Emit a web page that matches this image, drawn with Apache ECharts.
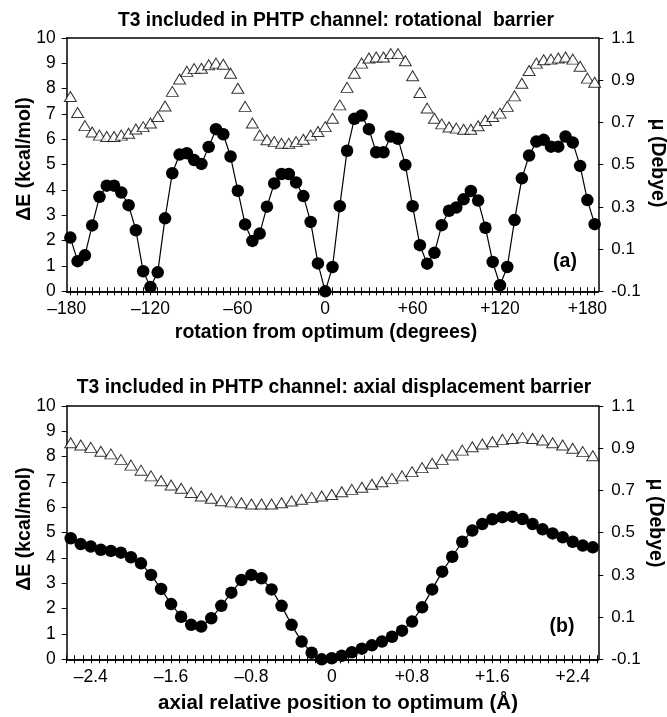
<!DOCTYPE html>
<html>
<head>
<meta charset="utf-8">
<script src="https://cdn.jsdelivr.net/npm/echarts@6/dist/echarts.min.js"></script>
<style>
  html, body { margin: 0; padding: 0; background: #fff; }
  #chart { width: 667px; height: 717px; }
</style>
</head>
<body>
<div id="chart"></div>
<script>
// ---------- DATA ----------
// (a) rotational barrier
const TOP_ANGLE = [-175,-170,-165,-160,-155,-150,-145,-140,-135,-130,-125,-120,-115,-110,-105,-100,-95,-90,-85,-80,-75,-70,-65,-60,-55,-50,-45,-40,-35,-30,-25,-20,-15,-10,-5,0,5,10,15,20,25,30,35,40,45,50,55,60,65,70,75,80,85,90,95,100,105,110,115,120,125,130,135,140,145,150,155,160,165,170,175,180,185];
const TOP_DE = [2.12,1.19,1.42,2.6,3.73,4.17,4.17,3.9,3.4,2.41,0.79,0.17,0.75,2.88,4.66,5.4,5.45,5.18,5.03,5.7,6.4,6.2,5.32,3.97,2.64,1.99,2.28,3.34,4.26,4.63,4.63,4.3,3.76,2.74,1.1,0.0,0.96,3.36,5.55,6.81,6.94,6.4,5.49,5.49,6.11,6.02,4.99,3.36,1.82,1.09,1.52,2.61,3.18,3.31,3.63,3.96,3.58,2.51,1.16,0.24,0.96,2.81,4.46,5.36,5.91,5.98,5.71,5.71,6.11,5.87,4.95,3.6,2.65];
const TOP_MU = [0.823,0.747,0.685,0.655,0.640,0.633,0.633,0.640,0.649,0.669,0.680,0.697,0.728,0.778,0.847,0.906,0.942,0.955,0.957,0.973,0.981,0.976,0.933,0.862,0.776,0.697,0.640,0.618,0.609,0.601,0.601,0.609,0.620,0.640,0.657,0.680,0.720,0.783,0.866,0.933,0.981,1.005,1.010,1.010,1.026,1.026,0.992,0.921,0.842,0.768,0.720,0.693,0.678,0.673,0.668,0.668,0.684,0.709,0.728,0.744,0.776,0.826,0.886,0.946,0.981,0.997,1.000,1.005,1.010,1.000,0.966,0.910,0.890];
const TOP_X_TICK_VALUES = [-180,-120,-60,0,60,120,180];
const TOP_X_TICK_TEXT = ['\u2013180','\u2013120','\u201360','0','+60','+120','+180'];

// (b) axial displacement barrier
const BOT_POS = [-2.6,-2.5,-2.4,-2.3,-2.2,-2.1,-2.0,-1.9,-1.8,-1.7,-1.6,-1.5,-1.4,-1.3,-1.2,-1.1,-1.0,-0.9,-0.8,-0.7,-0.6,-0.5,-0.4,-0.3,-0.2,-0.1,0.0,0.1,0.2,0.3,0.4,0.5,0.6,0.7,0.8,0.9,1.0,1.1,1.2,1.3,1.4,1.5,1.6,1.7,1.8,1.9,2.0,2.1,2.2,2.3,2.4,2.5,2.6];
const BOT_DE = [4.78,4.55,4.45,4.32,4.28,4.21,4.03,3.79,3.33,2.78,2.18,1.68,1.36,1.29,1.62,2.11,2.63,3.13,3.33,3.2,2.76,2.11,1.36,0.70,0.26,0.0,0.04,0.14,0.28,0.42,0.55,0.70,0.89,1.13,1.49,2.05,2.76,3.46,4.05,4.64,5.08,5.34,5.53,5.61,5.63,5.54,5.34,5.13,4.97,4.82,4.64,4.49,4.42];
const BOT_MU = [0.926,0.915,0.904,0.886,0.873,0.847,0.820,0.796,0.769,0.746,0.726,0.710,0.690,0.674,0.663,0.651,0.646,0.642,0.636,0.636,0.636,0.642,0.650,0.658,0.667,0.674,0.681,0.694,0.705,0.715,0.729,0.741,0.757,0.769,0.789,0.808,0.829,0.847,0.868,0.891,0.907,0.920,0.931,0.942,0.946,0.950,0.946,0.939,0.926,0.915,0.900,0.884,0.864];
const BOT_X_TICK_VALUES = [-2.4,-1.6,-0.8,0,0.8,1.6,2.4];
const BOT_X_TICK_TEXT = ['\u20132.4','\u20131.6','\u20130.8','0','+0.8','+1.6','+2.4'];

const LEFT_Y_TICKS = [0,1,2,3,4,5,6,7,8,9,10];
const RIGHT_Y_TICKS = [-0.1,0.1,0.3,0.5,0.7,0.9,1.1];

// ---------- LAYOUT ----------
const FONT = '"Liberation Sans", Arial, Helvetica, sans-serif';
const GRID_LEFT = 66.7, GRID_W = 531.6, GRID_H = 253.3;
const GRIDS = [{ top: 38 }, { top: 406 }];
const X_RANGES = [[-177.5, 187.5], [-2.64, 2.655]];
const MINOR_STEP = [5, 0.08];

function minorTicks(i) {
  const out = [];
  const [mn, mx] = X_RANGES[i];
  const st = MINOR_STEP[i];
  const k0 = Math.ceil(mn / st - 1e-9), k1 = Math.floor(mx / st + 1e-9);
  for (let k = k0; k <= k1; k++) out.push(+(k * st).toFixed(4));
  return out;
}

const AX_LINE = { show: true, onZero: false, lineStyle: { color: '#000', width: 1.5 } };

const xAxes = [], yAxes = [], series = [];
[0, 1].forEach(function (g) {
  const [mn, mx] = X_RANGES[g];
  const vals = g === 0 ? TOP_X_TICK_VALUES : BOT_X_TICK_VALUES;
  const txt = g === 0 ? TOP_X_TICK_TEXT : BOT_X_TICK_TEXT;
  const labelVals = vals.map(v => Math.min(Math.max(v, mn), mx));
  const ticks = minorTicks(g);
  xAxes.push({
    type: 'value', gridIndex: g, position: 'bottom', min: mn, max: mx,
    axisLine: AX_LINE,
    axisTick: { show: true, inside: false, length: 4, customValues: ticks, lineStyle: { color: '#000', width: 1 } },
    axisLabel: {
      show: true, customValues: labelVals, margin: 9,
      color: '#000', fontFamily: FONT, fontSize: 17.5,
      formatter: function (v) {
        let best = 0, d = Infinity;
        labelVals.forEach((lv, i) => { if (Math.abs(lv - v) < d) { d = Math.abs(lv - v); best = i; } });
        return txt[best];
      }
    },
    splitLine: { show: false }
  });
  xAxes.push({
    type: 'value', gridIndex: g, position: 'bottom', min: mn, max: mx,
    axisLine: AX_LINE,
    axisTick: { show: true, inside: true, length: 4, customValues: ticks, lineStyle: { color: '#000', width: 1 } },
    axisLabel: { show: false }, splitLine: { show: false }
  });
  xAxes.push({
    type: 'value', gridIndex: g, position: 'top', min: mn, max: mx,
    axisLine: AX_LINE, axisTick: { show: false }, axisLabel: { show: false }, splitLine: { show: false }
  });
  yAxes.push({
    type: 'value', gridIndex: g, position: 'left', min: 0, max: 10,
    axisLine: AX_LINE,
    axisTick: { show: true, inside: false, length: 5, customValues: LEFT_Y_TICKS, lineStyle: { color: '#000', width: 1 } },
    axisLabel: { show: true, customValues: LEFT_Y_TICKS, margin: 11, color: '#000', fontFamily: FONT, fontSize: 17.5 },
    splitLine: { show: false }
  });
  yAxes.push({
    type: 'value', gridIndex: g, position: 'right', min: -0.1, max: 1.1,
    axisLine: AX_LINE,
    axisTick: { show: true, inside: false, length: 5, customValues: RIGHT_Y_TICKS, lineStyle: { color: '#000', width: 1 } },
    axisLabel: {
      show: true, customValues: RIGHT_Y_TICKS, margin: 13, color: '#000', fontFamily: FONT, fontSize: 17,
      formatter: v => v.toFixed(1)
    },
    splitLine: { show: false }
  });

  const X = g === 0 ? TOP_ANGLE : BOT_POS;
  const DE = g === 0 ? TOP_DE : BOT_DE;
  const MU = g === 0 ? TOP_MU : BOT_MU;
  series.push({
    type: 'line', xAxisIndex: g * 3, yAxisIndex: g * 2,
    data: X.map((x, i) => [x, DE[i]]),
    symbol: 'circle', symbolSize: 12.5, showSymbol: true,
    itemStyle: { color: '#000' },
    lineStyle: { color: '#000', width: 1.2 },
    z: 3, silent: true
  });
  series.push({
    type: 'scatter', xAxisIndex: g * 3, yAxisIndex: g * 2 + 1,
    data: X.map((x, i) => [x, MU[i]]),
    symbol: 'triangle', symbolSize: [12, 10],
    itemStyle: { color: '#fff', borderColor: '#000', borderWidth: 1 },
    z: 4, silent: true
  });
});

const BOLD = { fill: '#000', fontFamily: FONT, fontWeight: 'bold' };
function txt(text, x, y, size, rot) {
  return {
    type: 'text', x: x, y: y, rotation: rot || 0, silent: true,
    style: Object.assign({ text: text, fontSize: size, align: 'center', verticalAlign: 'middle' }, BOLD)
  };
}

const option = {
  animation: false,
  backgroundColor: '#fff',
  grid: GRIDS.map(g => ({ left: GRID_LEFT, top: g.top, width: GRID_W, height: GRID_H, containLabel: false })),
  xAxis: xAxes,
  yAxis: yAxes,
  series: series,
  graphic: [
    txt('T3 included in PHTP channel: rotational  barrier', 336, 20.5, 19.3),
    txt('T3 included in PHTP channel: axial displacement barrier', 334, 388, 19.3),
    txt('rotation from optimum (degrees)', 326, 333, 19.5),
    txt('axial relative position to optimum (\u00c5)', 338, 703, 20.5),
    txt('\u0394E (kcal/mol)', 25, 159, 19.5, Math.PI / 2),
    txt('\u0394E (kcal/mol)', 25, 529, 19.5, Math.PI / 2),
    txt('\u03bc (Debye)', 657, 163, 19.5, -Math.PI / 2),
    txt('\u03bc (Debye)', 655, 523, 19.5, -Math.PI / 2),
    txt('(a)', 565, 262, 19.5),
    txt('(b)', 562, 627, 19.5)
  ]
};

const chart = echarts.init(document.getElementById('chart'), null, { renderer: 'canvas' });
chart.setOption(option);
</script>
</body>
</html>
